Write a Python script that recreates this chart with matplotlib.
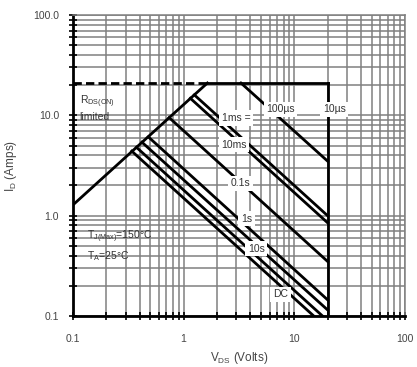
import matplotlib
matplotlib.use("Agg")
import matplotlib.pyplot as plt
from matplotlib.patches import Rectangle

plt.rcParams['font.family'] = ['Liberation Sans', 'DejaVu Sans']

# RDS(on) limit line and current / voltage limits
rds_v = [0.1, 1.64]
rds_i = [1.28, 21]
i_max = 21
v_max = 20
i_min = 0.1

# constant power lines (start and end points)
curve_names = ['100µs', '1ms a', '1ms b', '10ms', '0.1s', '1s', '10s', 'DC']
v_start = [3.3, 1.15, 1.25, 0.74, 0.48, 0.42, 0.375, 0.34]
i_start = [21, 14.8, 16, 9.5, 6.1, 5.4, 4.8, 4.4]
v_end = [20, 20, 20, 20, 20, 20, 18, 15]
i_end = [3.5, 0.85, 1.0, 0.35, 0.145, 0.115, 0.1, 0.1]

# labels: text, x, y (data coords)
labels = [
    ('1ms =', 3.0, 9.4),
    ('100µs', 7.5, 11.5),
    ('10µs', 23, 11.5),
    ('10ms', 2.85, 5.1),
    ('0.1s', 3.25, 2.1),
    ('1s', 3.7, 0.93),
    ('10s', 4.55, 0.47),
    ('DC', 7.5, 0.165),
]

fig = plt.figure(figsize=(4.17, 3.67), dpi=100)
ax = fig.add_axes([0.175, 0.139, 0.796, 0.82])
ax.set_xscale('log')
ax.set_yscale('log')
ax.set_xlim(0.1, 100)
ax.set_ylim(0.1, 100)

ax.grid(True, which='both', color='0.5', lw=1.1, zorder=0)

# white areas behind the notes
ax.add_patch(Rectangle((0.0, 0.62), 0.195, 0.15, transform=ax.transAxes,
                       facecolor='white', edgecolor='none', zorder=1))
ax.add_patch(Rectangle((0.012, 0.053), 0.34, 0.24, transform=ax.transAxes,
                       facecolor='white', edgecolor='none', zorder=1))

lw = 2.0
ax.plot(rds_v, rds_i, color='black', lw=lw, zorder=3)
ax.plot([0.1, rds_v[1]], [i_max, i_max], color='black', lw=lw, ls=(0, (3, 1.5)), zorder=3)
ax.plot([rds_v[1], v_max], [i_max, i_max], color='black', lw=lw, zorder=3)
ax.plot([v_max, v_max], [i_max, i_min], color='black', lw=lw, zorder=3)

for k in range(len(curve_names)):
    ax.plot([v_start[k], v_end[k]], [i_start[k], i_end[k]], color='black', lw=lw, zorder=3)

for txt, x, y in labels:
    ax.text(x, y, txt, ha='center', va='center', fontsize=7.5, color='#333333', zorder=5,
            bbox=dict(facecolor='white', edgecolor='none', boxstyle='square,pad=0.25'))

ax.text(0.115, 16.5, 'R$_{\\mathregular{DS(ON)}}$\nlimited', ha='left', va='top',
        fontsize=7.5, color='#333333', zorder=5, linespacing=1.3)
ax.text(0.135, 0.5, 'T$_{\\mathregular{J(Max)}}$=150°C\nT$_{\\mathregular{A}}$=25°C', ha='left', va='center',
        fontsize=7.5, color='#333333', zorder=5, linespacing=1.5)

ax.set_xticks([0.1, 1, 10, 100])
ax.set_xticklabels(['0.1', '1', '10', '100'])
ax.set_yticks([0.1, 1, 10, 100])
ax.set_yticklabels(['0.1', '1.0', '10.0', '100.0'])
ax.tick_params(which='both', direction='inout', length=6, width=1.2, color='black',
               labelsize=7.5, labelcolor='#444444')
ax.tick_params(axis='x', pad=10)
ax.tick_params(axis='y', pad=7)

for s in ['left', 'bottom']:
    ax.spines[s].set_linewidth(2)
for s in ['top', 'right']:
    ax.spines[s].set_color('0.5')
    ax.spines[s].set_linewidth(1.1)

ax.set_xlabel('V$_{\\mathregular{DS}}$ (Volts)', fontsize=8.5, color='#444444', labelpad=4)
ax.set_ylabel('I$_{\\mathregular{D}}$ (Amps)', fontsize=8.5, color='#444444', labelpad=10)

fig.savefig('out.png', dpi=100)
